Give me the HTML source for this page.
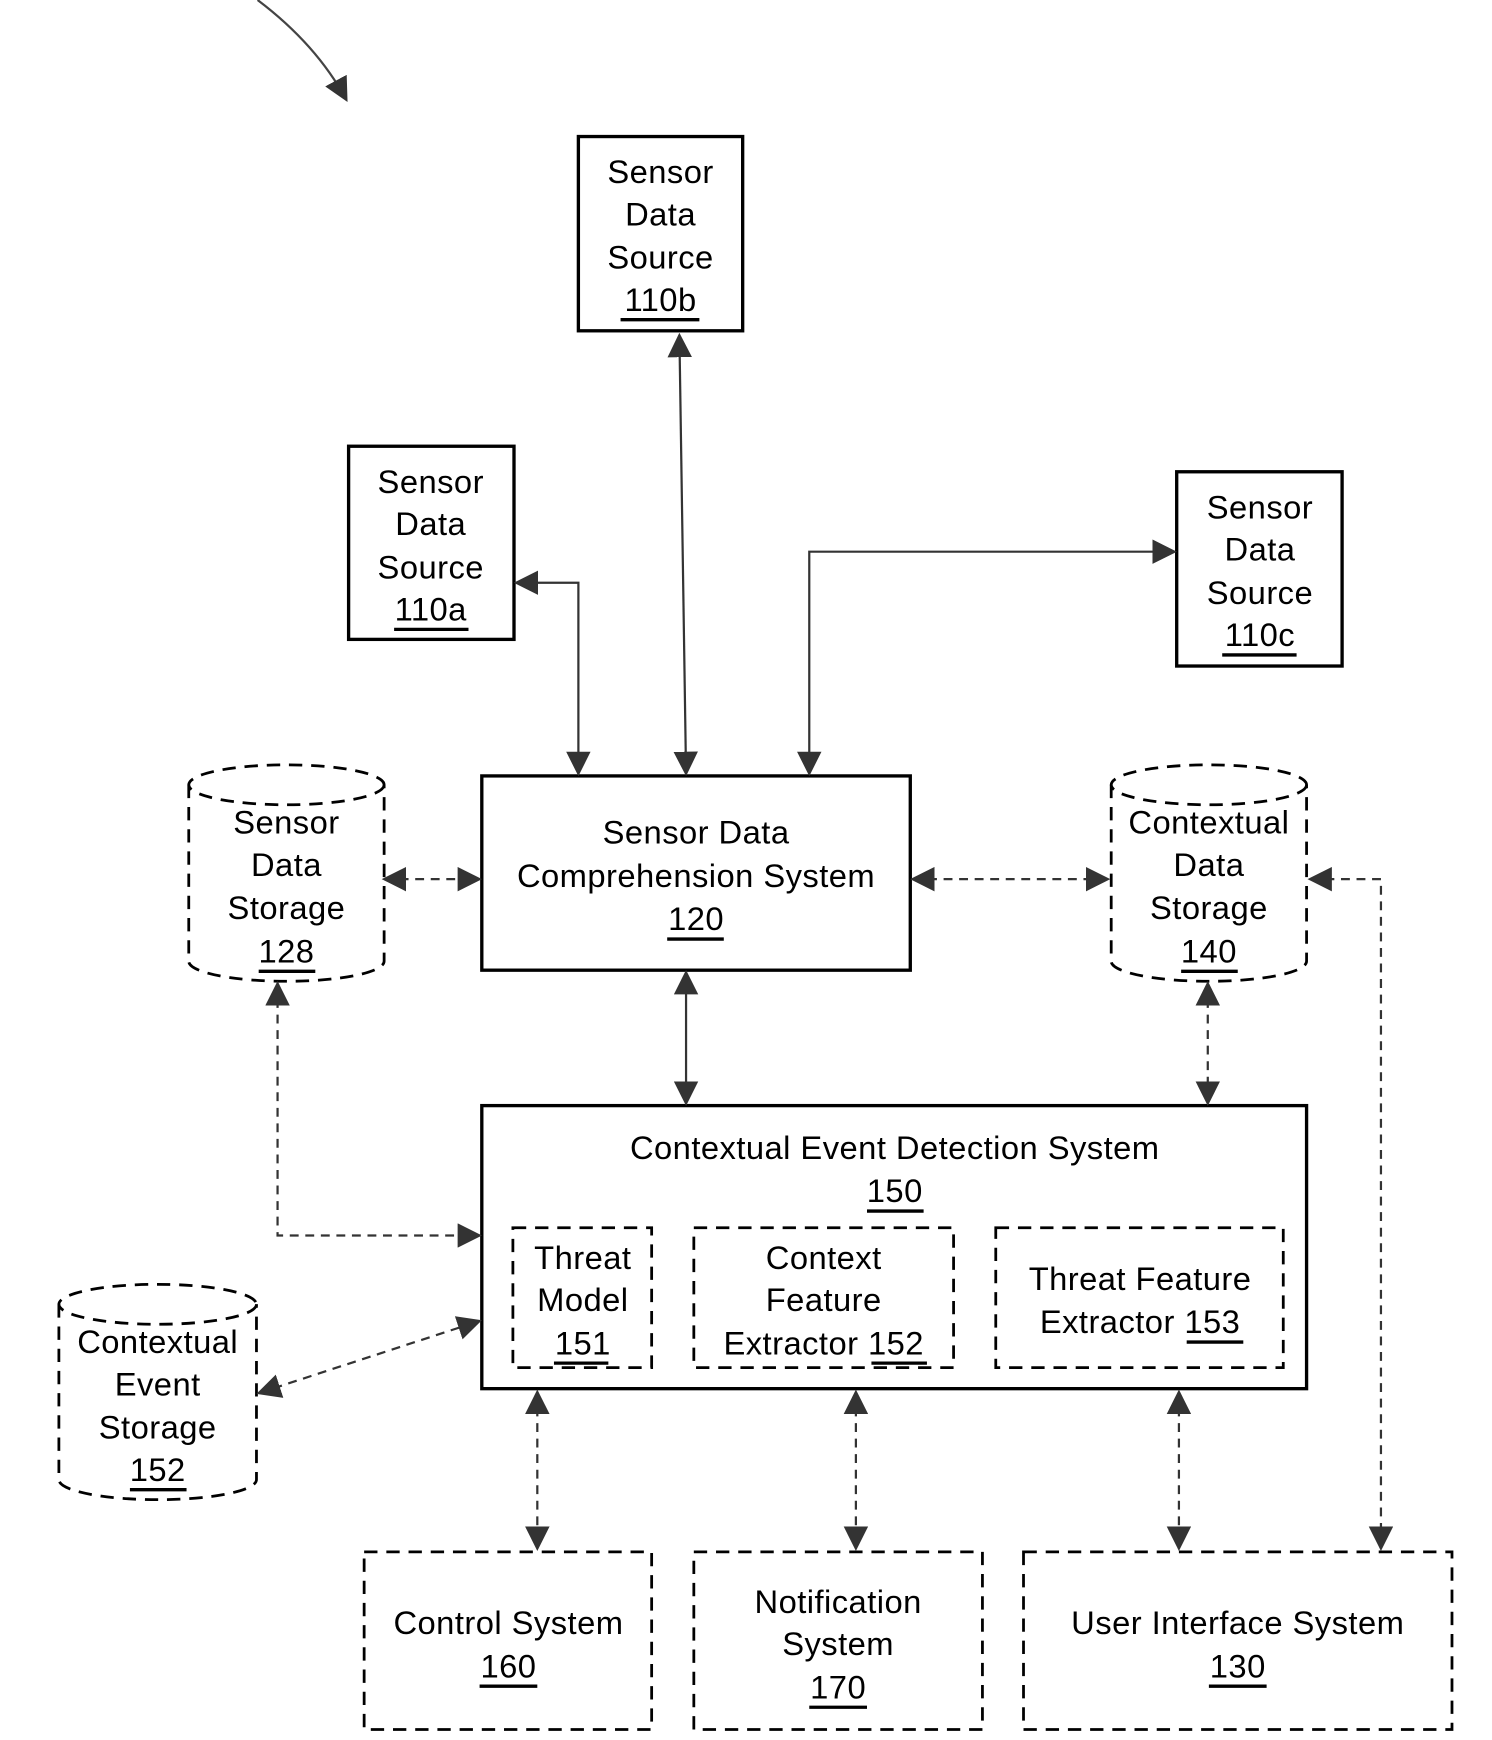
<!DOCTYPE html>
<html><head><meta charset="utf-8"><style>
html,body{margin:0;padding:0;background:#fff;}
svg{display:block}
text{font-family:"Liberation Sans",sans-serif;font-size:29.5px;letter-spacing:0.4px;fill:#000;text-anchor:middle}
</style></head><body>
<svg width="1492" height="1740" viewBox="0 0 1344 1567.5" xmlns="http://www.w3.org/2000/svg">
<defs>
<marker id="a" viewBox="0 0 10 10" refX="9" refY="5" markerWidth="22" markerHeight="22" markerUnits="userSpaceOnUse" orient="auto-start-reverse">
<path d="M0,0 L10,5 L0,10 z" fill="#333"/></marker>
</defs>
<g fill="none" stroke="#000" stroke-width="3">
<path d="M232,0 Q285,40 312,90" stroke="#444" stroke-width="2" marker-end="url(#a)"/>
<rect x="521" y="123" width="148" height="175"/>
<rect x="314" y="402" width="149" height="174"/>
<rect x="1060" y="425" width="149" height="175"/>
<rect x="434" y="699" width="386" height="175"/>
<rect x="434" y="996" width="743" height="255"/>
</g>
<g fill="none" stroke="#000" stroke-width="2.5" stroke-dasharray="12,8">
<rect x="462" y="1106" width="125" height="126"/>
<rect x="625" y="1106" width="234" height="126"/>
<rect x="897" y="1106" width="259" height="126"/>
<rect x="328" y="1398" width="259" height="160"/>
<rect x="625" y="1398" width="260" height="160"/>
<rect x="922" y="1398" width="386" height="160"/>
<ellipse cx="258" cy="707" rx="88" ry="18"/>
<path d="M170,707 V866 A88,18 0 0 0 346,866 V707"/>
<ellipse cx="1089" cy="707" rx="88" ry="18"/>
<path d="M1001,707 V866 A88,18 0 0 0 1177,866 V707"/>
<ellipse cx="142" cy="1175" rx="89" ry="18"/>
<path d="M53,1175 V1333 A89,18 0 0 0 231,1333 V1175"/>
</g>
<g fill="none" stroke="#333" stroke-width="2">
<path d="M465,525 H521 V697" marker-start="url(#a)" marker-end="url(#a)"/>
<path d="M612,302 L618,697" marker-start="url(#a)" marker-end="url(#a)"/>
<path d="M729,697 V497 H1058" marker-start="url(#a)" marker-end="url(#a)"/>
<path d="M618,876 V994" marker-start="url(#a)" marker-end="url(#a)"/>
</g>
<g fill="none" stroke="#333" stroke-width="2" stroke-dasharray="8,6">
<path d="M346,792 H432" marker-start="url(#a)" marker-end="url(#a)"/>
<path d="M822,792 H998" marker-start="url(#a)" marker-end="url(#a)"/>
<path d="M1180,792 H1244 V1395" marker-start="url(#a)" marker-end="url(#a)"/>
<path d="M1088,886 V994" marker-start="url(#a)" marker-end="url(#a)"/>
<path d="M250,886 V1113 H432" marker-start="url(#a)" marker-end="url(#a)"/>
<path d="M233,1255 L432,1190" marker-start="url(#a)" marker-end="url(#a)"/>
<path d="M484,1254 V1395" marker-start="url(#a)" marker-end="url(#a)"/>
<path d="M771,1254 V1395" marker-start="url(#a)" marker-end="url(#a)"/>
<path d="M1062,1254 V1395" marker-start="url(#a)" marker-end="url(#a)"/>
</g>
<g>
<text x="595" y="165">Sensor</text><text x="595" y="203">Data</text><text x="595" y="242">Source</text><text x="595" y="280">110b</text>
<text x="388" y="444">Sensor</text><text x="388" y="482">Data</text><text x="388" y="521">Source</text><text x="388" y="559">110a</text>
<text x="1135" y="467">Sensor</text><text x="1135" y="505">Data</text><text x="1135" y="544">Source</text><text x="1135" y="582">110c</text>
<text x="627" y="760">Sensor Data</text><text x="627" y="799">Comprehension System</text><text x="627" y="838">120</text>
<text x="258" y="751">Sensor</text><text x="258" y="789">Data</text><text x="258" y="828">Storage</text><text x="258" y="867">128</text>
<text x="1089" y="751">Contextual</text><text x="1089" y="789">Data</text><text x="1089" y="828">Storage</text><text x="1089" y="867">140</text>
<text x="806" y="1044">Contextual Event Detection System</text><text x="806" y="1083">150</text>
<text x="525" y="1143">Threat</text><text x="525" y="1181">Model</text><text x="525" y="1220">151</text>
<text x="742" y="1143">Context</text><text x="742" y="1181">Feature</text><text x="742" y="1220">Extractor 152</text>
<text x="1027" y="1162">Threat Feature</text><text x="1027" y="1201">Extractor 153</text>
<text x="142" y="1219">Contextual</text><text x="142" y="1257">Event</text><text x="142" y="1296">Storage</text><text x="142" y="1334">152</text>
<text x="458" y="1472">Control System</text><text x="458" y="1511">160</text>
<text x="755" y="1453">Notification</text><text x="755" y="1491">System</text><text x="755" y="1530">170</text>
<text x="1115" y="1472">User Interface System</text><text x="1115" y="1511">130</text>
</g>
<g stroke="#000" stroke-width="3">
<path d="M559,288 H630 M355,567 H422 M1101,590 H1168 M601,846 H652 M233,875 H284 M1064,875 H1115 M781,1091 H832 M499,1228 H548 M785,1228 H835 M1069,1209 H1120 M117,1342 H168 M432,1519 H484 M729,1538 H781 M1089,1519 H1141"/>
</g>
</svg>
</body></html>
